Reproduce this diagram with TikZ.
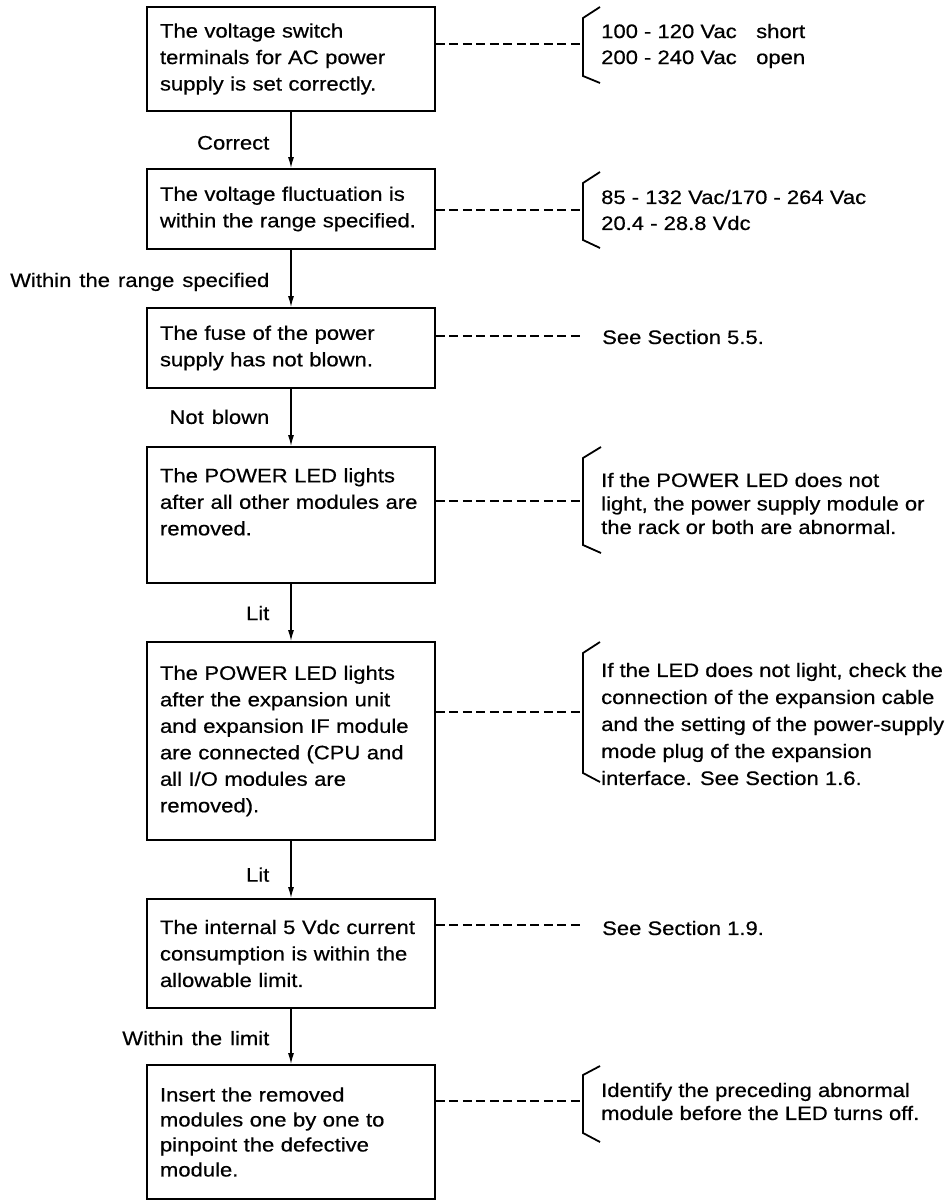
\documentclass[tikz,border=0pt]{standalone}
\usepackage{fontspec}
\setmainfont{Liberation Sans}[FakeStretch=1.13, FakeBold=0.5]
\usetikzlibrary{arrows.meta}
\begin{document}
\begin{tikzpicture}[x=1pt,y=-1pt,
  box/.style={draw, line width=1.8pt, rectangle, minimum width=288pt,
    text width=262pt, inner xsep=13pt, inner ysep=0pt, align=left,
    font=\fontsize{19.5}{26.5}\selectfont},
  arr/.style={line width=1.3pt, -{Latex[length=11pt,width=6pt]}},
  dsh/.style={line width=1.3pt, dash pattern=on 9pt off 4.5pt},
  brk/.style={line width=1.8pt, line join=miter},
  lbl/.style={font=\fontsize{19.5}{23}\selectfont, anchor=east, inner sep=0pt, xshift=-21pt},
  note/.style={anchor=west, align=left, inner sep=0pt}]
\useasboundingbox (0,0) rectangle (947,1201);

% boxes
\node[box, minimum height=104pt] (b1) at (291,59)
  {The voltage switch\\terminals for AC power\\supply is set correctly.};
\node[box, minimum height=80pt] (b2) at (291,209)
  {The voltage fluctuation is\\within the range specified.};
\node[box, minimum height=80pt] (b3) at (291,348)
  {The fuse of the power\\supply has not blown.};
\node[box, minimum height=136pt] (b4) at (291,515)
  {The POWER LED lights\\after all other modules are\\removed.\\\mbox{}};
\node[box, minimum height=198pt] (b5) at (291,741)
  {The POWER LED lights\\after the expansion unit\\and expansion IF module\\are connected (CPU and\\all I/O modules are\\removed).};
\node[box, minimum height=109pt] (b6) at (291,953.5)
  {The internal 5 Vdc current\\consumption is within the\\allowable limit.};
\node[box, minimum height=134pt, font=\fontsize{19.5}{25}\selectfont] (b7) at (291,1132)
  {Insert the removed\\modules one by one to\\pinpoint the defective\\module.};

% arrows with labels
\draw[arr] (b1.south) -- node[lbl, pos=0.55] (l1) {Correct} (b2.north);
\draw[arr] (b2.south) -- node[lbl, pos=0.56] (l2) {Within\hspace{8pt}the\hspace{8pt}range\hspace{8pt}specified} (b3.north);
\draw[arr] (b3.south) -- node[lbl, pos=0.49] (l3) {Not\hspace{8pt}blown} (b4.north);
\draw[arr] (b4.south) -- node[lbl, pos=0.51] (l4) {Lit} (b5.north);
\draw[arr] (b5.south) -- node[lbl, pos=0.59] (l5) {Lit} (b6.north);
\draw[arr] (b6.south) -- node[lbl, pos=0.53] (l6) {Within\hspace{8pt}the\hspace{8pt}limit} (b7.north);

% brackets and annotations
\draw[brk] (600,7) -- (583,18) -- (583,76) -- (600,83);
\coordinate (k1) at (583,44);
\node[note, font=\fontsize{19.5}{26}\selectfont] (a1) at (601,46)
  {\makebox[155pt][l]{100 - 120 Vac}short\\\makebox[155pt][l]{200 - 240 Vac}open};
\draw[dsh] (b1.east |- k1) -- (k1);

\draw[brk] (600,172) -- (583,183) -- (583,240) -- (600,248);
\coordinate (k2) at (583,210);
\node[note, font=\fontsize{19.5}{26}\selectfont] (a2) at (601,210)
  {85 - 132 Vac/170 - 264 Vac\\20.4 - 28.8 Vdc};
\draw[dsh] (b2.east |- k2) -- (k2);

\coordinate (k3) at (583,336);
\node[note, font=\fontsize{19.5}{26}\selectfont] (a3) at (602,337) {See Section 5.5.};
\draw[dsh] (b3.east |- k3) -- (k3);

\draw[brk] (601,447) -- (583,458) -- (583,545) -- (601,553);
\coordinate (k4) at (583,501);
\node[note, font=\fontsize{19.5}{23.5}\selectfont] (a4) at (601,503.5)
  {If the POWER LED does not\\light, the power supply module or\\the rack or both are abnormal.};
\draw[dsh] (b4.east |- k4) -- (k4);

\draw[brk] (600,642) -- (583,653) -- (583,773) -- (600,782);
\coordinate (k5) at (583,712);
\node[note, font=\fontsize{19.5}{27}\selectfont] (a5) at (601,724)
  {If the LED does not light, check the\\connection of the expansion cable\\and the setting of the power-supply\\mode plug of the expansion\\interface. See Section 1.6.};
\draw[dsh] (b5.east |- k5) -- (k5);

\coordinate (k6) at (583,925);
\node[note, font=\fontsize{19.5}{26}\selectfont] (a6) at (602,928) {See Section 1.9.};
\draw[dsh] (b6.east |- k6) -- (k6);

\draw[brk] (600,1066) -- (583,1075) -- (583,1133) -- (600,1142);
\coordinate (k7) at (583,1101);
\node[note, font=\fontsize{19.5}{23}\selectfont] (a7) at (601,1101.5)
  {Identify the preceding abnormal\\module before the LED turns off.};
\draw[dsh] (b7.east |- k7) -- (k7);
\end{tikzpicture}
\end{document}
